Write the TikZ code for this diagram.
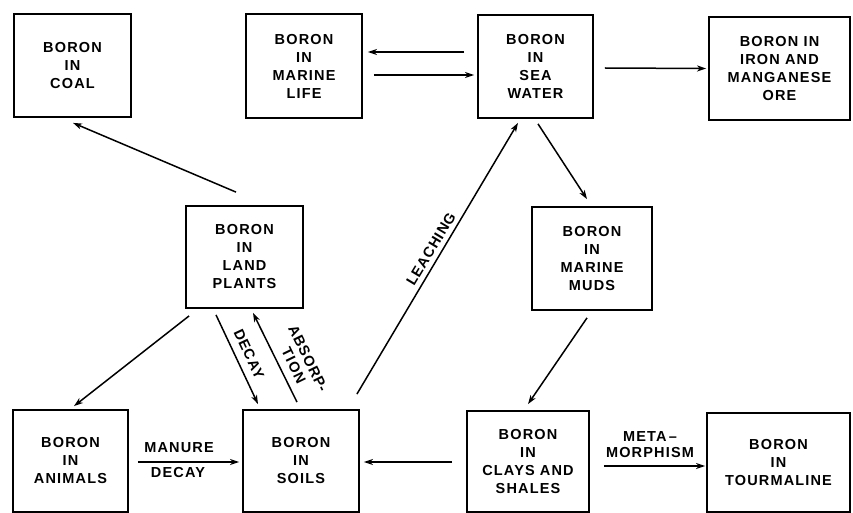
\documentclass[tikz,border=0pt]{standalone}
\usepackage{fontspec}
\setmainfont{Liberation Sans}[LetterSpace=8]
\newfontfamily\rotfont{Liberation Sans}[LetterSpace=6]
\usetikzlibrary{arrows.meta,calc}
\begin{document}
\begin{tikzpicture}[x=1pt,y=-1pt,
  box/.style={draw,line width=1.8pt,align=center,inner sep=0pt,font=\fontsize{14.5}{18}\selectfont\bfseries},
  arr/.style={line width=1.5pt,-{Stealth[length=9pt,width=6pt,inset=2.5pt]}},
  lab/.style={font=\fontsize{14.5}{16}\selectfont\bfseries,inner sep=0pt,align=center},
  rlab/.style={font=\rotfont\fontsize{14.5}{16}\selectfont\bfseries,inner sep=0pt,align=center}]
\clip (0,0) rectangle (853,513);
\node[box,minimum width=117pt,minimum height=103pt] (coal) at (72.5,65.5) {BORON\\IN\\COAL};
\node[box,minimum width=116pt,minimum height=104pt] (ml) at (304,66) {BORON\\IN\\MARINE\\LIFE};
\node[box,minimum width=115pt,minimum height=103pt] (sw) at (535.5,66.5) {BORON\\IN\\SEA\\WATER};
\node[box,minimum width=141pt,minimum height=103pt] (iron) at (779.5,68.5) {BORON IN\\IRON AND\\MANGANESE\\ORE};
\node[box,minimum width=117pt,minimum height=102pt] (lp) at (244.5,257) {BORON\\IN\\LAND\\PLANTS};
\node[box,minimum width=120pt,minimum height=103pt] (muds) at (592,258.5) {BORON\\IN\\MARINE\\MUDS};
\node[box,minimum width=115pt,minimum height=102pt] (an) at (70.5,461) {BORON\\IN\\ANIMALS};
\node[box,minimum width=116pt,minimum height=102pt] (soil) at (301,461) {BORON\\IN\\SOILS};
\node[box,minimum width=122pt,minimum height=101pt] (clay) at (528,461.5) {BORON\\IN\\CLAYS AND\\SHALES};
\node[box,minimum width=143pt,minimum height=99pt] (tour) at (778.5,462.5) {BORON\\IN\\TOURMALINE};
% connectors
\draw[arr] ($(sw.west)+(-13,-14.5)$) -- ($(ml.east)+(5,-14)$);
\draw[arr] ($(ml.east)+(11,9)$) -- ($(sw.west)+(-3,8.5)$);
\draw[arr] ($(sw.east)+(11,1.5)$) -- ($(iron.west)+(-2,0)$);
\draw[arr] ($(lp.north)+(-8.5,-13)$) -- ($(coal.south)+(0.5,5)$);
\draw[arr] ($(sw.south)+(2.5,5)$) -- ($(muds.north)+(-5,-7)$);
\draw[arr] ($(soil.north east)+(-3,-15)$) -- ($(sw.south)+(-17.5,4)$);
\draw[arr] ($(lp.south west)+(4,7)$) -- ($(an.north)+(3.5,-3)$);
\draw[arr] ($(lp.south)+(-28.5,6)$) -- ($(soil.north)+(-43,-5)$);
\draw[arr] ($(soil.north)+(-4,-7)$) -- ($(lp.south)+(8.5,4)$);
\draw[arr] ($(an.east)+(9,1)$) -- ($(soil.west)+(-3,1)$);
\draw[arr] ($(clay.west)+(-14,0.5)$) -- ($(soil.east)+(4,1)$);
\draw[arr] ($(muds.south)+(-5,7)$) -- ($(clay.north)+(0,-6)$);
\draw[arr] ($(clay.east)+(14,4.5)$) -- ($(tour.west)+(-1,3.5)$);
% labels
\node[rlab,rotate=59] (leach) at (431,249) {LEACHING};
\node[rlab,rotate=-65] (decay1) at (249,354) {DECAY};
\node[rlab,rotate=-64] (absorp) at (301,362) {ABSORP-\\TION};
\node[lab] (manure) at (179,448) {MANURE};
\node[lab] (decay2) at (178,473) {DECAY};
\node[lab] (meta) at (650,445) {META\,--\\MORPHISM};
\end{tikzpicture}
\end{document}
